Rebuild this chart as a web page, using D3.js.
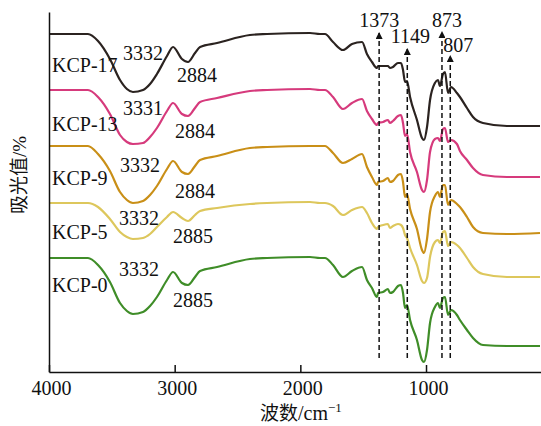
<!DOCTYPE html>
<html>
<head>
<meta charset="utf-8">
<script src="https://cdn.jsdelivr.net/npm/d3@7"></script>
<style>
  html, body { margin: 0; padding: 0; background: #fff; }
  svg { display: block; }
</style>
</head>
<body>
<svg id="chart" width="541" height="426"></svg>
<script>
// ---------------- DATA ----------------
const wavenumbers = [4000, 3690, 3610, 3515, 3435, 3380, 3332, 3252, 3196, 3141,
  3061, 3013, 2942, 2894, 2838, 2798, 2663, 2401, 2265, 1923,
  1844, 1804, 1740, 1661, 1589, 1509, 1470, 1430, 1390, 1382,
  1342, 1303, 1287, 1263, 1223, 1199, 1183, 1167, 1151, 1127,
  1072, 1032, 1016, 992, 968, 929, 905, 889, 865, 849,
  825, 801, 754, 730, 674, 626, 547, 356, 93];

const kcp17 = [338, 338, 331, 313, 292, 283, 280, 282, 288, 298,
  316, 325, 313, 310, 319, 325, 329, 337, 338, 339,
  338, 338, 330, 322, 328, 330, 318, 310, 304, 306,
  306, 306, 304, 305, 309, 309, 302, 290, 291, 275,
  252, 234, 232, 245, 272, 289, 292, 286, 298, 300,
  279, 285, 279, 275, 264, 255, 249, 246, 246];

const kcp13 = [282, 282, 275, 258, 237, 230, 228, 229, 235, 244,
  261, 269, 258, 256, 264, 270, 274, 281, 282, 283,
  282, 282, 275, 263, 269, 273, 261, 253, 247, 249,
  250, 252, 249, 251, 256, 257, 249, 236, 238, 220,
  200, 182, 180, 192, 220, 233, 234, 231, 243, 244,
  230, 232, 228, 221, 212, 204, 197, 195, 195];

const kcp9 = [226, 226, 218, 201, 180, 172, 169, 171, 177, 186,
  203, 211, 200, 198, 206, 212, 216, 224, 225, 226,
  226, 226, 219, 209, 213, 218, 205, 195, 187, 190,
  191, 194, 190, 191, 197, 198, 190, 175, 178, 163,
  143, 122, 119, 133, 160, 176, 180, 175, 187, 187,
  167, 172, 168, 165, 155, 145, 139, 138, 139];

const kcp5 = [169, 169, 165, 153, 140, 135, 133, 134, 138, 145,
  155, 160, 154, 151, 157, 161, 164, 168, 169, 170,
  169, 169, 166, 157, 162, 165, 159, 149, 143, 145,
  147, 148, 144, 146, 148, 147, 144, 137, 134, 124,
  107, 91, 89, 94, 115, 130, 132, 129, 140, 141,
  126, 130, 127, 124, 114, 105, 98, 95, 95];

const kcp0 = [114, 114, 107, 90, 69, 61, 58, 60, 66, 75,
  92, 100, 89, 87, 95, 101, 105, 113, 114, 115,
  114, 114, 107, 95, 101, 105, 92, 84, 75, 79,
  80, 83, 79, 80, 86, 87, 79, 64, 67, 52,
  32, 12, 10, 22, 49, 65, 69, 64, 74, 75,
  57, 62, 57, 52, 42, 34, 27, 26, 26];

const seriesNames = ["KCP-17", "KCP-13", "KCP-9", "KCP-5", "KCP-0"];
const seriesValues = [kcp17, kcp13, kcp9, kcp5, kcp0];
const ohLabels = ["3332", "3331", "3332", "3332", "3332"];
const chLabels = ["2884", "2884", "2884", "2885", "2885"];
const peakMarks = [1373, 1149, 873, 807];
const peakTexts = ["1373", "1149", "873", "807"];
const xTickValues = [4000, 3000, 2000, 1000];

// ---------------- LAYOUT / STYLE ----------------
const colors = ["#2b2320", "#d63a7c", "#c98f17", "#ddc75c", "#3f8d28"];
const nameY = [72, 131, 185, 239, 292];
const ohX = [123, 123, 120, 119, 119];
const ohY = [60, 115, 172, 225, 276];
const chX = [177, 175, 175, 173, 173];
const chY = [82, 138, 198, 243, 307];
const peakTipY = [32, 48, 31, 55];
const peakTextDx = [0, 3, 5, 8];
const peakTextY = [27, 43, 27, 52];

const serif = "'Liberation Serif', 'Times New Roman', serif";
const cjk = "'Noto Sans CJK SC', sans-serif";

const svg = d3.select("#chart");
const x = d3.scaleLinear().domain([4000, 85]).range([49, 541]);
const y = d3.scaleLinear().domain([0, 360]).range([372, 12]);

// arrow marker
svg.append("defs").append("marker")
  .attr("id", "arrow")
  .attr("viewBox", "0 0 10 10")
  .attr("refX", 10).attr("refY", 5)
  .attr("markerWidth", 9).attr("markerHeight", 7)
  .attr("markerUnits", "userSpaceOnUse")
  .attr("orient", "auto")
  .append("path").attr("d", "M0,0 L10,5 L0,10 Z").attr("fill", "#111");

// curves
const line = d3.line()
  .x((d, i) => x(wavenumbers[i]))
  .y(d => y(d))
  .curve(d3.curveMonotoneX);

svg.append("g").selectAll("path")
  .data(seriesValues.map((v, i) => ({ v, i })).reverse())
  .join("path")
  .attr("d", d => line(d.v))
  .attr("fill", "none")
  .attr("stroke", d => colors[d.i])
  .attr("stroke-width", 2.2)
  .attr("stroke-linejoin", "round");

// dashed peak markers
const pk = svg.append("g");
pk.selectAll("line")
  .data(peakMarks)
  .join("line")
  .attr("x1", d => x(d)).attr("x2", d => x(d))
  .attr("y1", 358)
  .attr("y2", (d, i) => peakTipY[i])
  .attr("stroke", "#111")
  .attr("stroke-width", 1.5)
  .attr("stroke-dasharray", "5,3")
  .attr("marker-end", "url(#arrow)");
pk.selectAll("text")
  .data(peakTexts)
  .join("text")
  .attr("x", (d, i) => x(peakMarks[i]) + peakTextDx[i])
  .attr("y", (d, i) => peakTextY[i])
  .attr("text-anchor", "middle")
  .attr("font-family", serif)
  .attr("font-size", 20)
  .attr("fill", "#111")
  .text(d => d);

// axes
const xAxis = svg.append("g")
  .attr("transform", "translate(0,372)")
  .call(d3.axisBottom(x).tickValues(xTickValues).tickFormat(d3.format("d"))
    .tickSizeInner(-7).tickSizeOuter(0).tickPadding(9));
xAxis.select(".domain").attr("stroke", "#111").attr("stroke-width", 1.5);
xAxis.selectAll(".tick line").attr("stroke", "#111").attr("stroke-width", 1.5);
xAxis.selectAll(".tick text")
  .attr("font-family", serif).attr("font-size", 20).attr("fill", "#111")
  .attr("dx", 2);

const yAxis = svg.append("g")
  .attr("transform", "translate(49,0)")
  .call(d3.axisLeft(y).tickValues([]).tickSizeOuter(0));
yAxis.select(".domain").attr("stroke", "#111").attr("stroke-width", 1.5);

// series labels
const lab = svg.append("g").attr("font-family", serif).attr("font-size", 20).attr("fill", "#111");
lab.selectAll("text.name")
  .data(seriesNames).join("text").attr("class", "name")
  .attr("x", 52).attr("y", (d, i) => nameY[i]).text(d => d);
lab.selectAll("text.oh")
  .data(ohLabels).join("text").attr("class", "oh")
  .attr("x", (d, i) => ohX[i]).attr("y", (d, i) => ohY[i]).text(d => d);
lab.selectAll("text.ch")
  .data(chLabels).join("text").attr("class", "ch")
  .attr("x", (d, i) => chX[i]).attr("y", (d, i) => chY[i]).text(d => d);

// axis titles
svg.append("text")
  .attr("transform", "translate(26,175) rotate(-90)")
  .attr("text-anchor", "middle")
  .attr("font-size", 19)
  .attr("fill", "#111")
  .call(t => {
    t.append("tspan").attr("font-family", cjk).text("吸光值");
    t.append("tspan").attr("font-family", serif).text("/%");
  });

const xt = svg.append("text")
  .attr("x", 260).attr("y", 420)
  .attr("font-size", 20)
  .attr("fill", "#111");
xt.append("tspan").attr("font-family", cjk).attr("font-size", 19).text("波数");
xt.append("tspan").attr("font-family", serif).text("/cm");
xt.append("tspan").attr("font-family", serif).attr("font-size", 13).attr("dy", -8).text("−1");
</script>
</body>
</html>
